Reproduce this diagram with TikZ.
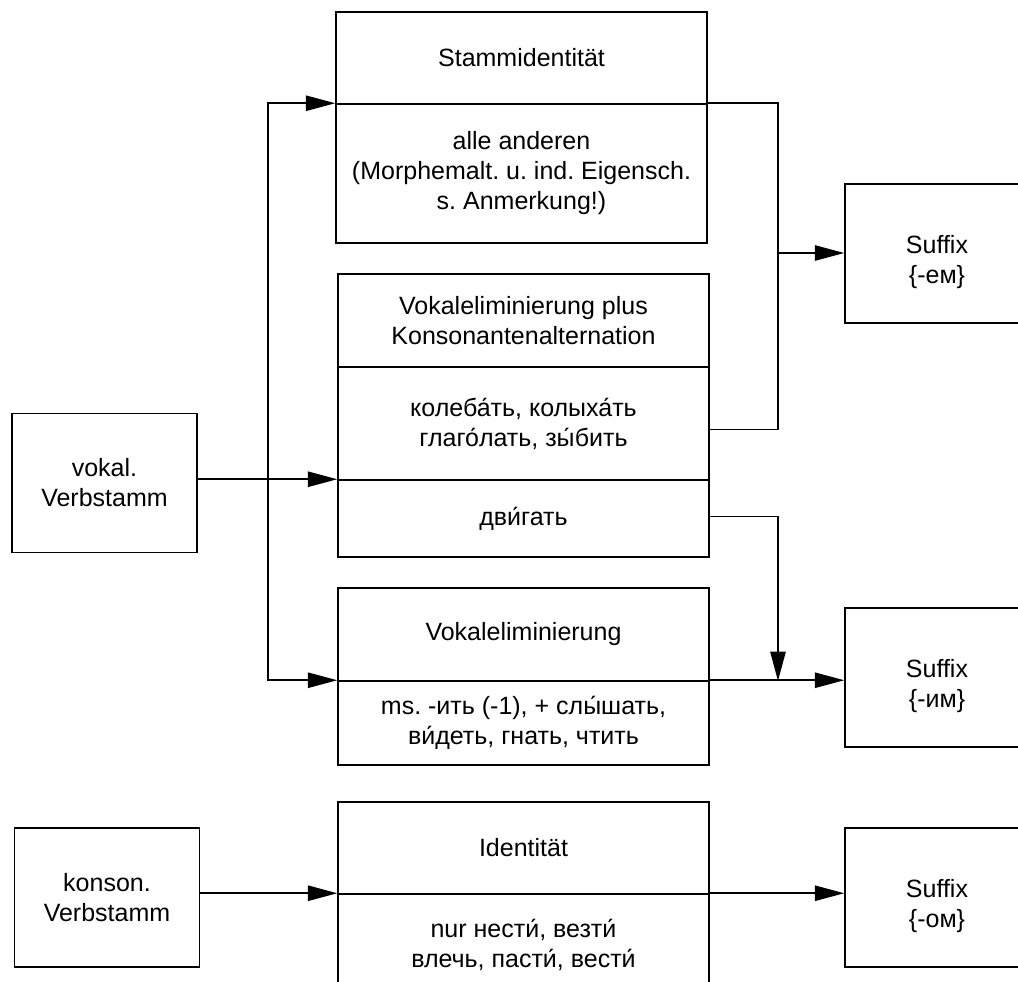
\documentclass[tikz,border=0pt]{standalone}
\usepackage{fontspec}
\setmainfont{Liberation Sans}
\usetikzlibrary{arrows.meta}
\newcommand\lab{\fontsize{18.75pt}{22.5pt}\selectfont\frenchspacing}
\begin{document}
\begin{tikzpicture}[x=0.75pt,y=-0.75pt, line width=1.15pt,
  box/.style={draw, rectangle, inner sep=0pt, align=center, font=\lab},
  part/.style={box, minimum width=278.25pt},
  side/.style={box, minimum width=138.75pt, minimum height=104.25pt},
  suffix/.style={side, minimum width=138pt, label={[font=\lab, align=center, yshift=-6.5pt]center:#1}},
  arr/.style={-{Triangle[length=22pt,width=11.5pt]}}]
\useasboundingbox (0,0) rectangle (1018,982);
\clip (0,0) rectangle (1018,982);

% source stems
\node[side] (vokal)  at (104.5,483)   {vokal.\\Verbstamm};
\node[side] (konson) at (107,897.5)   {konson.\\Verbstamm};

% stem identity
\node[part, minimum height=69pt]     (st1) at (521.5,58)    {Stammidentität};
\node[part, minimum height=104.25pt] (st2) at (521.5,173.5) {alle anderen\\(Morphemalt. u. ind. Eigensch.\\s. Anmerkung!)};

% vowel elimination plus consonant alternation
\node[part, minimum height=69.75pt]  (vk1) at (523.5,320.5) {Vokaleliminierung plus\\Konsonantenalternation};
\node[part, minimum height=84.75pt]  (vk2) at (523.5,423.5) {колеба́ть, колыха́ть\\глаго́лать, зы́бить};
\node[part, minimum height=57.75pt]  (vk3) at (523.5,518.5) {дви́гать};

% vowel elimination
\node[part, minimum height=69.75pt]  (ve1) at (523.5,634.5) {Vokaleliminierung};
\node[part, minimum height=63pt]     (ve2) at (523.5,723)   {ms. -ить (-1), + слы́шать,\\ви́деть, гнать, чтить};

% identity
\node[part, minimum height=69pt]     (id1) at (523.5,848)   {Identität};
\node[part, minimum height=76.5pt]   (id2) at (523.5,945)   {nur нести́, везти́\\влечь, пасти́, вести́};

% suffixes
\node[suffix={Suffix\\\{-ем\}}] (suf1) at (937,253.5) {};
\node[suffix={Suffix\\\{-им\}}] (suf2) at (937,677.5) {};
\node[suffix={Suffix\\\{-ом\}}] (suf3) at (937,897.5) {};

% branching from the vocalic stem
\coordinate (split) at (268,480);
\draw[arr] (vokal.east |- vk3.north west) -- (vk3.north west);
\draw[arr] (split) |- (st2.north west);
\draw[arr] (split) |- (ve2.north west);

% into the suffix {-ем}
\coordinate (merge1) at (778,253);
\draw (st2.north east) -| (merge1) |- ([yshift=-4.5pt]vk2.east);
\draw[arr] (merge1) -- (merge1 -| suf1.west);

% into the suffix {-им}
\coordinate (merge2) at (778,681);
\draw[arr] ([yshift=1.5pt]vk3.east) -| (merge2);
\draw[arr] (ve2.north east) -- (ve2.north east -| suf2.west);

% consonantal stem
\draw[arr] (konson.east |- id2.north west) -- (id2.north west);
\draw[arr] (id2.north east) -- (id2.north east -| suf3.west);
\end{tikzpicture}
\end{document}
